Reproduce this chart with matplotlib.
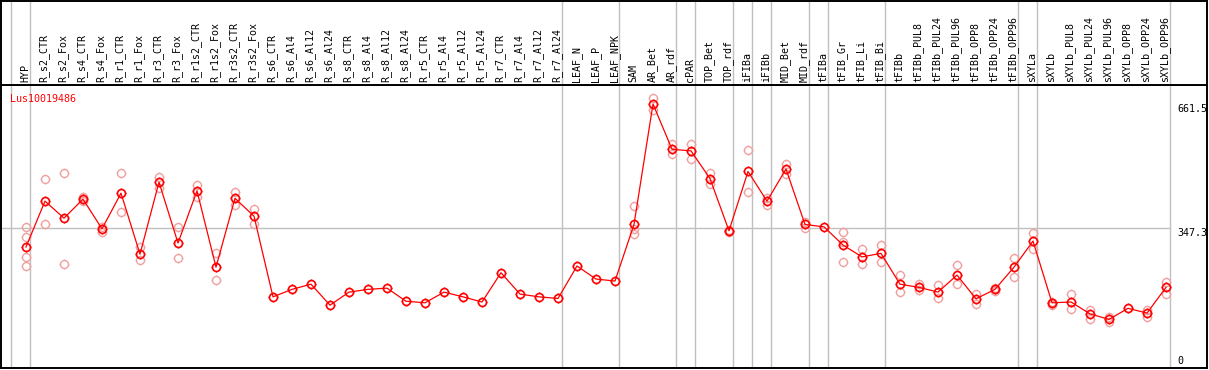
import matplotlib
matplotlib.use("Agg")
import matplotlib.pyplot as plt
from matplotlib.path import Path
from matplotlib import transforms
import numpy as np

gene = "Lus10019486"

categories = ["HYP",
    "R_s2_CTR", "R_s2_Fox", "R_s4_CTR", "R_s4_Fox", "R_r1_CTR", "R_r1_Fox",
    "R_r3_CTR", "R_r3_Fox", "R_r1s2_CTR", "R_r1s2_Fox", "R_r3s2_CTR", "R_r3s2_Fox",
    "R_s6_CTR", "R_s6_Al4", "R_s6_Al12", "R_s6_Al24", "R_s8_CTR", "R_s8_Al4",
    "R_s8_Al12", "R_s8_Al24", "R_r5_CTR", "R_r5_Al4", "R_r5_Al12", "R_r5_Al24",
    "R_r7_CTR", "R_r7_Al4", "R_r7_Al12", "R_r7_Al24",
    "LEAF_N", "LEAF_P", "LEAF_NPK",
    "SAM", "AR_Bet", "AR_rdf",
    "cPAR",
    "TOP_Bet", "TOP_rdf",
    "iFIBa",
    "iFIBb",
    "MID_Bet", "MID_rdf",
    "tFIBa",
    "tFIB_Gr", "tFIB_Li", "tFIB_Bi",
    "tFIBb", "tFIBb_PUL8", "tFIBb_PUL24", "tFIBb_PUL96", "tFIBb_OPP8", "tFIBb_OPP24", "tFIBb_OPP96",
    "sXYLa",
    "sXYLb", "sXYLb_PUL8", "sXYLb_PUL24", "sXYLb_PUL96", "sXYLb_OPP8", "sXYLb_OPP24", "sXYLb_OPP96"]

# number of categories in each separated group
group_sizes = [1, 28, 3, 3, 1, 2, 1, 1, 2, 1, 3, 7, 1, 7]

means = [300,
    416, 373, 421, 346, 436, 282, 464, 310, 442, 249, 423, 378,
    174, 193, 206, 153, 186, 193, 196, 163, 159, 186, 174, 161,
    235, 181, 174, 170,
    252, 219, 214,
    357, 661.5, 547,
    543,
    473, 341,
    491,
    416,
    497, 357,
    351,
    305, 275, 284,
    206, 198, 186, 229, 169, 193, 249,
    315,
    159, 161, 131, 117, 145, 133, 198]

replicates = [[350, 325, 275, 252],
    [471, 357], [486, 257], [427, 416], [351, 339], [486, 388], [300, 266],
    [476, 448], [350, 272], [456, 427], [284, 216], [439, 406], [395, 357],
    [], [], [], [], [], [], [], [], [], [], [], [],
    [], [], [], [],
    [], [], [],
    [404, 345, 333], [676, 646], [560, 535],
    [560, 522],
    [487, 459], [343, 337],
    [545, 438],
    [423, 406],
    [510, 484], [364, 349],
    [],
    [339, 313, 263], [295, 256], [305, 263],
    [229, 186], [206, 191], [204, 170], [254, 206], [182, 155], [197, 190], [272, 224],
    [335, 294],
    [162, 153], [181, 143], [140, 119], [122, 111], [], [141, 122], [212, 182]]

y_ticks = [661.5, 347.3, 0]

W, H = 1209, 370
fig = plt.figure(figsize=(W / 100, H / 100), dpi=100)

# pixel geometry
x_left, x_right = 1, 1207
y_top, y_head, y_bot = 0.5, 85, 368
x0_px, dx_px = 26, 19
xlim = ((x_left - x0_px) / dx_px, (x_right - x0_px) / dx_px)
# value scale: 661.5 -> 104px, 347.3 -> 228.3px
slope = (228.3 - 104) / (661.5 - 347.3)
zero_px = 228.3 + 347.3 * slope
ylim = ((zero_px - y_bot) / slope, (zero_px - y_head) / slope)

ax = fig.add_axes([x_left / W, (H - y_bot) / H, (x_right - x_left) / W, (y_bot - y_head) / H])
hx = fig.add_axes([x_left / W, (H - y_head) / H, (x_right - x_left) / W, (y_head - y_top) / H])
for a in (ax, hx):
    a.set_xlim(*xlim)
    a.set_xticks([])
    a.set_yticks([])
    for s in a.spines.values():
        s.set_color("black")
        s.set_linewidth(1.4)
ax.set_ylim(*ylim)
hx.set_ylim(0, 1)

grid_c = "#c0c0c0"
bounds = np.cumsum([0] + group_sizes) - 1
sep_x = bounds + 4 / 19
for a in (ax, hx):
    for sx in sep_x:
        a.axvline(sx, color=grid_c, lw=1.0, zorder=0)
ax.plot([xlim[0], sep_x[-1]], [y_ticks[1], y_ticks[1]], color=grid_c, lw=1.0, zorder=0)

# marker: circle with four small ticks
circ = Path.unit_circle()
ticks = []
for dxv, dyv in [(0, 1), (0, -1), (1, 0), (-1, 0)]:
    ticks.append(Path([(dxv * 1.0, dyv * 1.0), (dxv * 1.22, dyv * 1.22)], [Path.MOVETO, Path.LINETO]))
mk = Path.make_compound_path(circ, *ticks)

xs = np.arange(len(categories))
for i, reps in enumerate(replicates):
    if reps:
        ax.plot([i] * len(reps), reps, linestyle="none", marker=mk, markersize=7.0,
                markerfacecolor="none", markeredgecolor="#f0a0a0", markeredgewidth=1.0, zorder=2)
ax.plot(xs, means, color="red", lw=0.9, zorder=3)
ax.plot(xs, means, linestyle="none", marker=mk, markersize=7.0, markerfacecolor="none",
        markeredgecolor="red", markeredgewidth=1.2, zorder=4)

mono = "DejaVu Sans Mono"
tr = transforms.blended_transform_factory(hx.transData, hx.transAxes)
for i, c in enumerate(categories):
    hx.text(i - 0.05, 2.5 / (y_head - y_top), c, rotation=90, ha="center", va="bottom",
            fontsize=7.2, family=mono, transform=tr)

ax.text(9 / (x_right - x_left), 1 - 9 / (y_bot - y_head), gene, color="red", fontsize=7.2,
        family=mono, ha="left", va="top", transform=ax.transAxes)

trl = transforms.blended_transform_factory(ax.transAxes, ax.transData)
lx = (1177 - x_left) / (x_right - x_left)
ax.text(lx, y_ticks[0], "661.5", fontsize=7.2, family=mono, ha="left", va="top", transform=trl)
ax.text(lx, y_ticks[1], "347.3", fontsize=7.2, family=mono, ha="left", va="top", transform=trl)
ax.text(lx, y_ticks[2], "0", fontsize=7.2, family=mono, ha="left", va="bottom", transform=trl)

fig.savefig("out.png", dpi=100)
